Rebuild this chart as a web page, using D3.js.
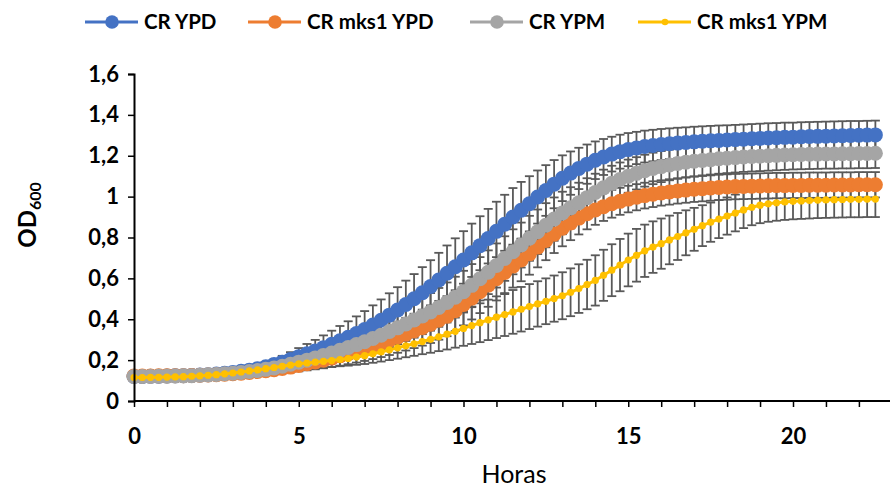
<!DOCTYPE html>
<html><head><meta charset="utf-8">
<script src="https://cdn.jsdelivr.net/npm/d3@7"></script>
<style>
html,body{margin:0;padding:0;background:#fff;}
svg{display:block;}
text{font-family:Lato,"Open Sans",sans-serif;}
</style></head>
<body><svg id="chart" width="890" height="487"></svg>
<script>
const hours = [0,0.25,0.5,0.75,1,1.25,1.5,1.75,2,2.25,2.5,2.75,3,3.25,3.5,3.75,4,4.25,4.5,4.75,5,5.25,5.5,5.75,6,6.25,6.5,6.75,7,7.25,7.5,7.75,8,8.25,8.5,8.75,9,9.25,9.5,9.75,10,10.25,10.5,10.75,11,11.25,11.5,11.75,12,12.25,12.5,12.75,13,13.25,13.5,13.75,14,14.25,14.5,14.75,15,15.25,15.5,15.75,16,16.25,16.5,16.75,17,17.25,17.5,17.75,18,18.25,18.5,18.75,19,19.25,19.5,19.75,20,20.25,20.5,20.75,21,21.25,21.5,21.75,22,22.25,22.5];

const crYPD = [0.120,0.120,0.121,0.121,0.122,0.123,0.124,0.125,0.127,0.129,0.132,0.136,0.140,0.145,0.151,0.158,0.167,0.178,0.190,0.203,0.217,0.231,0.245,0.261,0.278,0.295,0.312,0.330,0.350,0.372,0.395,0.420,0.445,0.472,0.500,0.530,0.560,0.592,0.625,0.657,0.690,0.725,0.760,0.795,0.830,0.865,0.900,0.933,0.965,0.998,1.030,1.061,1.090,1.115,1.138,1.159,1.178,1.194,1.208,1.220,1.230,1.238,1.245,1.250,1.255,1.259,1.262,1.265,1.268,1.271,1.273,1.275,1.277,1.279,1.281,1.283,1.285,1.287,1.288,1.290,1.291,1.293,1.294,1.295,1.296,1.297,1.298,1.299,1.300,1.301,1.302];
const crYPDerr = [0.006,0.006,0.006,0.006,0.007,0.007,0.007,0.008,0.008,0.009,0.010,0.011,0.012,0.014,0.016,0.019,0.022,0.026,0.031,0.036,0.042,0.048,0.054,0.060,0.066,0.072,0.078,0.084,0.090,0.096,0.102,0.107,0.112,0.117,0.121,0.125,0.129,0.133,0.136,0.139,0.141,0.143,0.144,0.145,0.145,0.144,0.142,0.139,0.135,0.130,0.124,0.118,0.112,0.106,0.101,0.096,0.092,0.088,0.085,0.083,0.081,0.079,0.078,0.077,0.076,0.075,0.075,0.074,0.074,0.073,0.073,0.073,0.072,0.072,0.072,0.072,0.072,0.072,0.072,0.072,0.071,0.071,0.071,0.071,0.071,0.071,0.071,0.071,0.070,0.070,0.070];

const crMks1YPD = [0.122,0.122,0.122,0.123,0.123,0.124,0.124,0.125,0.126,0.127,0.129,0.131,0.133,0.136,0.140,0.144,0.148,0.153,0.159,0.166,0.174,0.182,0.191,0.200,0.210,0.221,0.232,0.244,0.256,0.269,0.283,0.297,0.312,0.327,0.343,0.359,0.376,0.395,0.415,0.442,0.472,0.503,0.535,0.567,0.598,0.629,0.660,0.690,0.720,0.753,0.785,0.816,0.845,0.871,0.895,0.916,0.935,0.951,0.965,0.977,0.988,0.997,1.005,1.012,1.018,1.023,1.028,1.032,1.036,1.039,1.042,1.045,1.047,1.049,1.050,1.051,1.052,1.053,1.054,1.054,1.055,1.055,1.056,1.056,1.056,1.057,1.057,1.057,1.058,1.058,1.058];
const crMks1YPDerr = [0.005,0.005,0.005,0.005,0.006,0.006,0.006,0.007,0.007,0.008,0.009,0.010,0.011,0.012,0.014,0.016,0.018,0.020,0.023,0.026,0.029,0.032,0.036,0.040,0.044,0.048,0.052,0.056,0.060,0.064,0.068,0.072,0.076,0.080,0.084,0.088,0.092,0.095,0.098,0.100,0.102,0.104,0.105,0.106,0.106,0.106,0.105,0.104,0.102,0.099,0.096,0.092,0.088,0.084,0.080,0.076,0.073,0.070,0.068,0.066,0.065,0.064,0.063,0.063,0.062,0.062,0.062,0.062,0.062,0.062,0.062,0.062,0.062,0.062,0.062,0.062,0.062,0.062,0.062,0.062,0.062,0.062,0.062,0.062,0.062,0.062,0.062,0.062,0.062,0.062,0.062];

const crYPM = [0.120,0.120,0.120,0.121,0.121,0.122,0.123,0.124,0.126,0.128,0.130,0.133,0.136,0.140,0.144,0.149,0.155,0.162,0.170,0.180,0.190,0.200,0.211,0.223,0.235,0.248,0.262,0.276,0.290,0.306,0.322,0.340,0.358,0.377,0.396,0.416,0.436,0.458,0.482,0.508,0.535,0.566,0.598,0.630,0.663,0.697,0.730,0.763,0.796,0.828,0.860,0.890,0.920,0.945,0.970,0.995,1.020,1.043,1.065,1.084,1.100,1.114,1.127,1.138,1.147,1.155,1.162,1.168,1.173,1.177,1.181,1.185,1.188,1.191,1.194,1.196,1.198,1.200,1.202,1.204,1.205,1.206,1.207,1.208,1.209,1.209,1.210,1.210,1.211,1.211,1.212];
const crYPMerr = [0.006,0.006,0.006,0.006,0.007,0.007,0.007,0.008,0.008,0.009,0.010,0.011,0.012,0.013,0.015,0.017,0.019,0.022,0.025,0.028,0.032,0.036,0.040,0.044,0.048,0.052,0.056,0.060,0.064,0.068,0.072,0.076,0.080,0.083,0.086,0.089,0.092,0.095,0.098,0.100,0.102,0.104,0.106,0.107,0.108,0.109,0.110,0.110,0.110,0.109,0.108,0.106,0.104,0.101,0.098,0.095,0.092,0.089,0.086,0.083,0.081,0.079,0.078,0.077,0.076,0.075,0.075,0.074,0.074,0.073,0.073,0.073,0.073,0.073,0.073,0.073,0.073,0.073,0.073,0.073,0.072,0.072,0.072,0.072,0.072,0.072,0.072,0.072,0.072,0.072,0.072];

const crMks1YPM = [0.115,0.115,0.116,0.116,0.117,0.118,0.119,0.121,0.123,0.126,0.129,0.133,0.137,0.142,0.147,0.152,0.158,0.164,0.170,0.176,0.182,0.186,0.190,0.194,0.198,0.203,0.208,0.215,0.222,0.231,0.240,0.250,0.260,0.270,0.280,0.291,0.302,0.314,0.327,0.341,0.355,0.369,0.383,0.397,0.410,0.423,0.436,0.449,0.462,0.475,0.488,0.501,0.515,0.532,0.550,0.570,0.590,0.615,0.640,0.665,0.690,0.713,0.735,0.753,0.770,0.788,0.805,0.823,0.840,0.858,0.875,0.890,0.905,0.920,0.935,0.948,0.958,0.965,0.970,0.974,0.977,0.979,0.981,0.983,0.984,0.985,0.986,0.987,0.987,0.988,0.988];
const crMks1YPMerr = [0.005,0.005,0.005,0.005,0.006,0.006,0.006,0.007,0.007,0.008,0.009,0.010,0.011,0.012,0.013,0.014,0.015,0.017,0.019,0.021,0.023,0.025,0.027,0.029,0.031,0.033,0.035,0.038,0.041,0.044,0.047,0.050,0.053,0.056,0.059,0.062,0.066,0.070,0.075,0.080,0.085,0.090,0.095,0.099,0.102,0.105,0.107,0.109,0.110,0.111,0.112,0.113,0.115,0.117,0.119,0.121,0.123,0.125,0.127,0.128,0.129,0.129,0.128,0.126,0.123,0.119,0.115,0.110,0.105,0.100,0.096,0.093,0.091,0.090,0.089,0.088,0.088,0.088,0.088,0.088,0.088,0.088,0.088,0.088,0.088,0.088,0.088,0.088,0.088,0.088,0.088];

const seriesNames = ["CR YPD","CR mks1 YPD","CR YPM","CR mks1 YPM"];
const seriesColors = ["#4472C4","#ED7D31","#A5A5A5","#FFC000"];
const yTicks = [0,0.2,0.4,0.6,0.8,1,1.2,1.4,1.6];
const xTickLabels = [0,5,10,15,20];

const series = [
  {name:seriesNames[0], color:seriesColors[0], v:crYPD, e:crYPDerr, r:7.5, lw:3},
  {name:seriesNames[1], color:seriesColors[1], v:crMks1YPD, e:crMks1YPDerr, r:7.5, lw:3},
  {name:seriesNames[2], color:seriesColors[2], v:crYPM, e:crYPMerr, r:7.5, lw:3},
  {name:seriesNames[3], color:seriesColors[3], v:crMks1YPM, e:crMks1YPMerr, r:3.6, lw:3}
];

const svg = d3.select("#chart");
const x = d3.scaleLinear().domain([0,23.6]).range([134, 134+23.6*32.95]);
const y = d3.scaleLinear().domain([0,1.6]).range([401,74]);

// error bars
const eb = svg.append("g").attr("stroke","#595959").attr("stroke-width",1.8).attr("fill","none");
series.forEach(s=>{
  hours.forEach((t,i)=>{
    const cx = x(t), y1 = y(s.v[i]+s.e[i]), y2 = y(s.v[i]-s.e[i]);
    eb.append("line").attr("x1",cx).attr("x2",cx).attr("y1",y1).attr("y2",y2);
    eb.append("line").attr("x1",cx-4.5).attr("x2",cx+4.5).attr("y1",y1).attr("y2",y1);
    eb.append("line").attr("x1",cx-4.5).attr("x2",cx+4.5).attr("y1",y2).attr("y2",y2);
  });
});

// series
const line = d3.line().x((d,i)=>x(hours[i])).y(d=>y(d));
series.forEach(s=>{
  const g = svg.append("g");
  g.append("path").attr("d", line(s.v)).attr("fill","none").attr("stroke",s.color).attr("stroke-width",s.lw);
  g.selectAll("circle").data(s.v).join("circle")
    .attr("cx",(d,i)=>x(hours[i])).attr("cy",d=>y(d)).attr("r",s.r).attr("fill",s.color);
});

// axes
const yAxis = svg.append("g").attr("transform","translate(134,0)")
  .call(d3.axisLeft(y).tickValues(yTicks).tickSize(6).tickPadding(9)
    .tickFormat(d=>d3.format(".1f")(d).replace(/\.0$/,"").replace(".",",")));
const xAxis = svg.append("g").attr("transform","translate(0,401)")
  .call(d3.axisBottom(x).tickValues(d3.range(0,23,1)).tickSize(6).tickPadding(21)
    .tickFormat(d=>xTickLabels.includes(d)?String(d):""));
[yAxis,xAxis].forEach(a=>{
  a.select(".domain").attr("stroke","#000").attr("stroke-width",2);
  a.selectAll(".tick line").attr("stroke","#000").attr("stroke-width",1.5);
  a.selectAll("text").attr("fill","#000").attr("font-family","Lato, sans-serif")
    .attr("font-weight","bold").attr("font-size",22);
});
xAxis.select(".domain").attr("d","M134,0H890");

// axis titles
svg.append("text").attr("x",514).attr("y",483).attr("text-anchor","middle")
  .attr("font-size",25).attr("fill","#000").text("Horas");
const yt = svg.append("text").attr("transform","translate(36,215) rotate(-90)")
  .attr("text-anchor","middle").attr("font-size",24).attr("font-weight","bold").attr("fill","#000");
yt.append("tspan").text("OD");
yt.append("tspan").attr("font-size",16).attr("dy",5).text("600");

// legend
const legX = [85, 248, 470, 638];
const lg = svg.append("g");
series.forEach((s,i)=>{
  const g = lg.append("g").attr("transform",`translate(${legX[i]},22)`);
  g.append("line").attr("x1",0).attr("x2",53).attr("stroke",s.color).attr("stroke-width",s.lw);
  g.append("circle").attr("cx",27).attr("r",s.r===7.5?6.8:3.3).attr("fill",s.color);
  g.append("text").attr("x",59).attr("dy","0.35em").attr("font-size",20.5).attr("font-weight","bold")
    .attr("fill","#000").text(s.name);
});
</script></body></html>
